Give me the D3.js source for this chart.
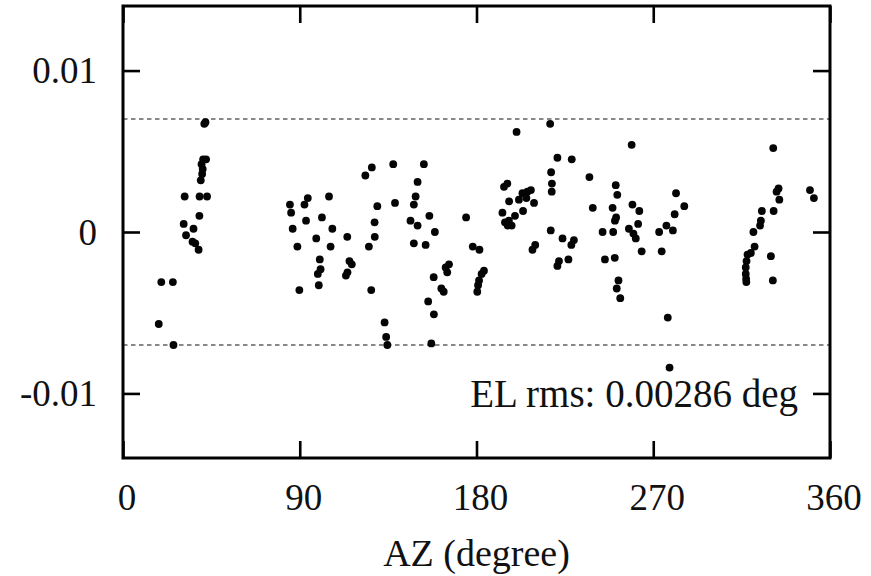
<!DOCTYPE html>
<html>
<head>
<meta charset="utf-8">
<script src="https://cdn.jsdelivr.net/npm/d3@7"></script>
<style>
  body { margin: 0; background: #fff; }
  text { font-family: "Liberation Serif", "Times New Roman", serif; fill: #111; }
</style>
</head>
<body>
<div id="chart"></div>
<script>
// EL residuals vs azimuth

var width = 871, height = 576;
var margin = { top: 6, right: 41, bottom: 118, left: 123 };

// data
var az = [
    18.2, 19.5, 25.4, 25.7, 31.4, 30.9, 32.1, 35.9, 35.4, 36.8, 38.5, 38.9, 39.0, 42.8, 39.6, 40.3, 40.6, 40.0, 40.8, 42.3, 41.4, 42.0,
    85.0, 85.6, 86.4, 88.8, 89.8, 92.4, 94.1, 93.2, 98.4, 101.3, 100.2, 100.6, 99.2, 99.7, 104.9, 106.6, 105.7, 114.2, 115.3, 116.5, 113.5, 114.3,
    123.4, 126.7, 129.5, 128.1, 128.2, 125.2, 126.4, 133.2, 134.0, 134.6, 137.6, 138.5, 153.2, 150.0, 149.0, 148.1, 146.4, 150.0, 156.0, 158.8,
    148.1, 154.1, 164.3, 166.0, 165.1, 158.2, 162.1, 163.3, 155.4, 158.3, 157.0,
    174.7, 178.1, 181.5, 183.8, 182.6, 181.3, 180.8, 180.4, 200.4, 194.0, 195.7, 196.6, 201.6, 203.4, 205.9, 207.7, 209.3, 205.4, 203.7, 193.2,
    199.6, 194.5, 196.5, 197.9, 195.9, 209.9, 208.5,
    217.5, 221.2, 228.5, 218.0, 218.4, 218.3, 217.8, 223.8, 229.6, 228.3, 222.0, 221.2, 226.8, 237.5, 239.2, 244.2, 245.4, 250.9, 251.7, 249.3,
    251.1, 250.5, 249.6, 250.4, 252.3, 251.4, 253.2, 259.0, 259.4, 262.9, 262.3, 257.6, 259.9, 261.1, 264.1, 273.0, 276.7, 280.0, 274.3, 281.6,
    285.8, 280.9, 277.4, 278.3,
    331.1, 333.8, 332.8, 334.2, 325.3, 331.3, 324.8, 324.4, 321.0, 321.6, 318.0, 319.7, 317.5, 317.1, 317.1, 317.3, 317.4, 329.9, 330.9, 349.8, 351.8
];
var el = [
    -0.0057, -0.0031, -0.0031, -0.0070, 0.0022, 0.0005, -0.0002, 0.0002, -0.0006, -0.0007, -0.0011, 0.0010, 0.0022, 0.0022, 0.0032, 0.0036, 0.0039, 0.0042, 0.0045, 0.0045, 0.0067, 0.0068,
    0.0017, 0.0012, 0.0002, -0.0009, -0.0036, 0.0017, 0.0021, 0.0007, -0.0004, 0.0009, -0.0017, -0.0023, -0.0026, -0.0033, 0.0022, 0.0002, -0.0009, -0.0003, -0.0018, -0.0020, -0.0027, -0.0025,
    0.0035, 0.0040, 0.0016, 0.0006, -0.0003, -0.0009, -0.0036, -0.0056, -0.0065, -0.0070, 0.0042, 0.0018, 0.0042, 0.0031, 0.0022, 0.0017, 0.0007, 0.0004, 0.0010, 0.0000,
    -0.0007, -0.0008, -0.0022, -0.0020, -0.0025, -0.0028, -0.0035, -0.0037, -0.0043, -0.0051, -0.0069,
    0.0009, -0.0009, -0.0011, -0.0024, -0.0026, -0.0030, -0.0033, -0.0037, 0.0062, 0.0028, 0.0030, 0.0019, 0.0020, 0.0024, 0.0025, 0.0026, 0.0018, 0.0021, 0.0013, 0.0012,
    0.0010, 0.0006, 0.0007, 0.0004, 0.0004, -0.0008, -0.0011,
    0.0067, 0.0046, 0.0045, 0.0037, 0.0030, 0.0025, 0.0001, -0.0004, -0.0005, -0.0008, -0.0018, -0.0021, -0.0017, 0.0034, 0.0015, 0.0000, -0.0017, 0.0029, 0.0023, 0.0015,
    0.0009, 0.0007, 0.0000, -0.0016, -0.0030, -0.0035, -0.0041, 0.0054, 0.0017, 0.0013, 0.0005, 0.0002, -0.0001, -0.0004, -0.0012, 0.0000, 0.0004, 0.0001, -0.0012, 0.0024,
    0.0016, 0.0011, -0.0053, -0.0084,
    0.0052, 0.0027, 0.0025, 0.0020, 0.0013, 0.0013, 0.0007, 0.0004, 0.0000, -0.0009, -0.0014, -0.0013, -0.0018, -0.0022, -0.0026, -0.0029, -0.0031, -0.0015, -0.0030, 0.0026, 0.0021
];
var xTicks = [0, 90, 180, 270, 360];
var yTicks = [-0.01, 0, 0.01];
var yTickLabels = ["-0.01", "0", "0.01"];
var limits = [-0.007, 0.007];
var rmsLabel = "EL rms: 0.00286 deg";
var xTitle = "AZ (degree)";

var innerW = width - margin.left - margin.right,
    innerH = height - margin.top - margin.bottom;

var x = d3.scaleLinear().domain([0, 360]).range([0, innerW]);
var y = d3.scaleLinear().domain([-0.014, 0.014]).range([innerH, 0]);

var svg = d3.select("#chart").append("svg")
    .attr("width", width)
    .attr("height", height);

var g = svg.append("g")
    .attr("transform", "translate(" + margin.left + "," + margin.top + ")");

// dashed limit lines
g.selectAll(".limit")
    .data(limits)
    .enter().append("line")
    .attr("class", "limit")
    .attr("x1", 0).attr("x2", innerW)
    .attr("y1", d => y(d)).attr("y2", d => y(d))
    .attr("stroke", "#111")
    .attr("stroke-width", 1)
    .attr("stroke-dasharray", "4.5,3.5");

// points
var pts = az.map((d, i) => ({ az: d, el: el[i] }));
g.selectAll(".pt")
    .data(pts)
    .enter().append("circle")
    .attr("class", "pt")
    .attr("cx", d => x(d.az))
    .attr("cy", d => y(d.el))
    .attr("r", 3.9)
    .attr("fill", "#050505");

// inward ticks on all four sides (mirrored)
var tickLen = 17;
var axes = [
    { ax: d3.axisBottom(x).tickValues(xTicks), shift: [0, innerH] },
    { ax: d3.axisTop(x).tickValues(xTicks), shift: [0, 0] },
    { ax: d3.axisLeft(y).tickValues(yTicks), shift: [0, 0] },
    { ax: d3.axisRight(y).tickValues(yTicks), shift: [innerW, 0] }
];
axes.forEach(function (a) {
    var sel = g.append("g")
        .attr("transform", "translate(" + a.shift[0] + "," + a.shift[1] + ")")
        .call(a.ax.tickSizeInner(-tickLen).tickSizeOuter(0).tickFormat(""));
    sel.select(".domain").remove();
    sel.selectAll(".tick line").attr("stroke", "#000").attr("stroke-width", 2.6);
});

// frame
g.append("rect")
    .attr("x", 0).attr("y", 0)
    .attr("width", innerW).attr("height", innerH)
    .attr("fill", "none")
    .attr("stroke", "#000")
    .attr("stroke-width", 3);

// tick labels
g.selectAll(".xlab")
    .data(xTicks)
    .enter().append("text")
    .attr("class", "xlab")
    .attr("x", d => x(d) + 4)
    .attr("y", innerH + 52)
    .attr("text-anchor", "middle")
    .style("font-size", "37px")
    .text(d => d);

g.selectAll(".ylab")
    .data(yTicks)
    .enter().append("text")
    .attr("class", "ylab")
    .attr("x", -26)
    .attr("y", d => y(d) + 12.5)
    .attr("text-anchor", "end")
    .style("font-size", "37px")
    .text((d, i) => yTickLabels[i]);

// rms annotation
g.append("text")
    .attr("x", x(360) - 32)
    .attr("y", y(-0.01) + 14)
    .attr("text-anchor", "end")
    .style("font-size", "39px")
    .text(rmsLabel);

// x title
g.append("text")
    .attr("x", innerW / 2)
    .attr("y", innerH + 108)
    .attr("text-anchor", "middle")
    .style("font-size", "38px")
    .text(xTitle);
</script>
</body>
</html>
